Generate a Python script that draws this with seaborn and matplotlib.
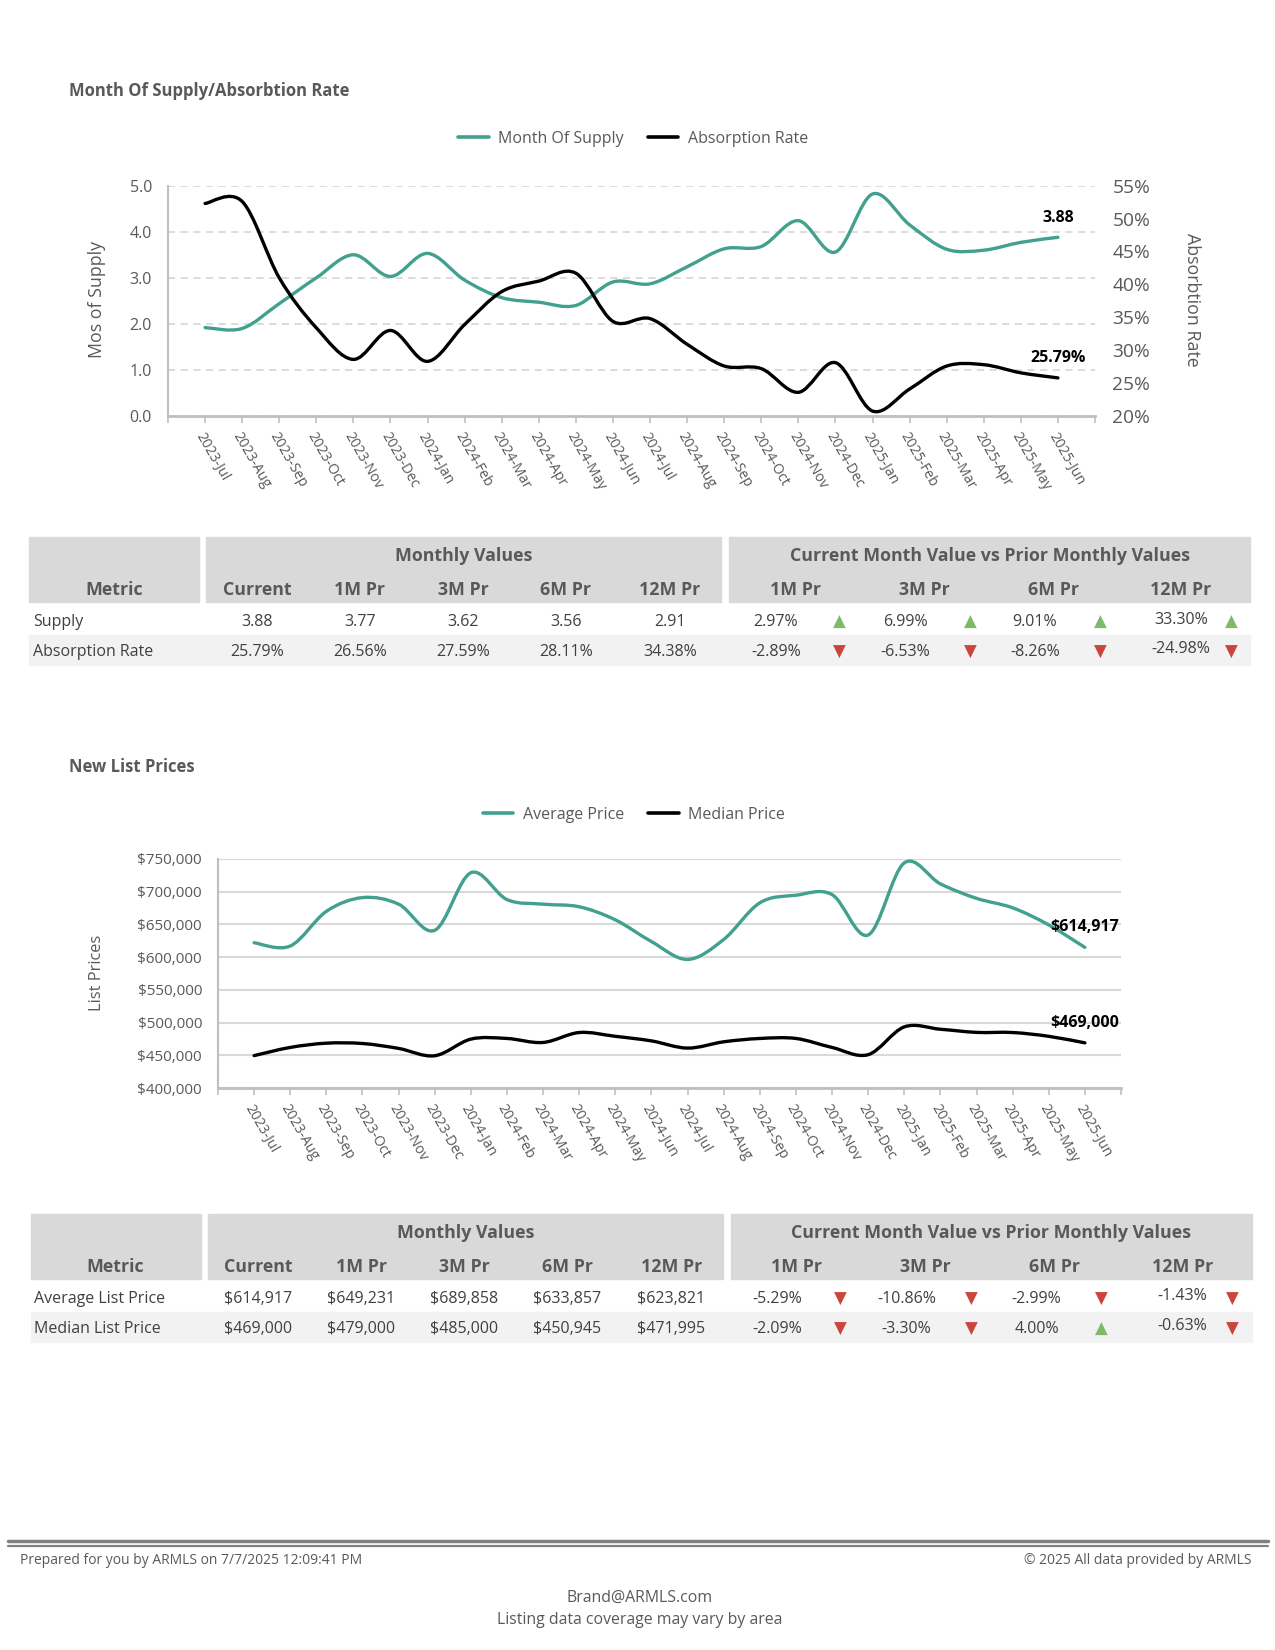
import matplotlib
matplotlib.use("Agg")
import matplotlib.pyplot as plt
import seaborn as sns
from matplotlib.path import Path
from matplotlib.patches import PathPatch, Rectangle
from matplotlib.lines import Line2D
from matplotlib.ticker import FuncFormatter

# ---- data ----
months = ['2023-Jul', '2023-Aug', '2023-Sep', '2023-Oct', '2023-Nov', '2023-Dec',
          '2024-Jan', '2024-Feb', '2024-Mar', '2024-Apr', '2024-May', '2024-Jun',
          '2024-Jul', '2024-Aug', '2024-Sep', '2024-Oct', '2024-Nov', '2024-Dec',
          '2025-Jan', '2025-Feb', '2025-Mar', '2025-Apr', '2025-May', '2025-Jun']

month_of_supply = [1.92, 1.90, 2.44, 3.00, 3.50, 3.03, 3.53, 2.95, 2.57, 2.47, 2.40, 2.91,
                   2.87, 3.24, 3.63, 3.68, 4.24, 3.56, 4.82, 4.15, 3.62, 3.60, 3.77, 3.88]
absorption_rate = [52.3, 52.6, 41.0, 33.4, 28.6, 33.0, 28.3, 33.9, 38.9, 40.5, 41.7, 34.38,
                   34.8, 30.9, 27.6, 27.2, 23.6, 28.11, 20.75, 24.1, 27.59, 27.8, 26.56, 25.79]

avg_price = [622000, 617000, 670000, 691000, 681000, 641000, 729000, 688000, 681000, 677000,
             657000, 623821, 596500, 627000, 683000, 694600, 695600, 633857, 744000, 712000,
             689858, 675400, 649231, 614917]
median_price = [449500, 462000, 468500, 468000, 460500, 449300, 474700, 475700, 469600, 484800,
                479000, 471995, 461000, 470600, 475700, 475700, 462000, 450945, 493400, 489800,
                485000, 484800, 479000, 469000]

monthly_cols = ['Current', '1M Pr', '3M Pr', '6M Pr', '12M Pr']
change_cols = ['1M Pr', '3M Pr', '6M Pr', '12M Pr']

supply_rows = ['Supply', 'Absorption Rate']
supply_values = [['3.88', '3.77', '3.62', '3.56', '2.91'],
                 ['25.79%', '26.56%', '27.59%', '28.11%', '34.38%']]
supply_changes = [['2.97%', '6.99%', '9.01%', '33.30%'],
                  ['-2.89%', '-6.53%', '-8.26%', '-24.98%']]

price_rows = ['Average List Price', 'Median List Price']
price_values = [['$614,917', '$649,231', '$689,858', '$633,857', '$623,821'],
                ['$469,000', '$479,000', '$485,000', '$450,945', '$471,995']]
price_changes = [['-5.29%', '-10.86%', '-2.99%', '-1.43%'],
                 ['-2.09%', '-3.30%', '4.00%', '-0.63%']]

# ---- style ----
sns.set_theme(style="white")
plt.rcParams['font.family'] = ['Open Sans', 'DejaVu Sans']

TEAL = '#42A08E'
GRAY_TXT = '#595959'
DATA_TXT = '#404040'
GRID = '#D9D9D9'
AXIS = '#BFBFBF'
UP = '#7DBB6A'
DOWN = '#C9463D'

W, H = 1275, 1650
fig = plt.figure(figsize=(W / 100, H / 100), dpi=100)


def fx(x):
    return x / W


def fy(y):
    return 1 - y / H


def axes_px(left, top, right, bottom):
    return fig.add_axes([left / W, 1 - bottom / H, (right - left) / W, (bottom - top) / H])


def smooth_path(ys):
    """Bezier path through the points, like Excel's smoothed line."""
    xs = list(range(len(ys)))
    n = len(ys)
    verts = [(xs[0], ys[0])]
    codes = [Path.MOVETO]
    for i in range(n - 1):
        a = max(i - 1, 0)
        b = min(i + 2, n - 1)
        c1 = (xs[i] + (xs[i + 1] - xs[a]) / 6, ys[i] + (ys[i + 1] - ys[a]) / 6)
        c2 = (xs[i + 1] - (xs[b] - xs[i]) / 6, ys[i + 1] - (ys[b] - ys[i]) / 6)
        verts += [c1, c2, (xs[i + 1], ys[i + 1])]
        codes += [Path.CURVE4] * 3
    return Path(verts, codes)


def style_xaxis(ax):
    ax.set_xlim(-1, 24)
    ax.set_xticks(range(len(months)))
    ax.set_xticks([-1, 24], minor=True)
    ax.set_xticklabels(months, rotation=-60, ha='left', va='top',
                       rotation_mode='anchor', fontsize=10.2, color=GRAY_TXT)
    ax.tick_params(axis='x', which='both', bottom=True, length=5, width=1.2,
                   color=AXIS, pad=5)
    for s in ['top', 'right']:
        ax.spines[s].set_visible(False)
    ax.spines['left'].set_color(AXIS)
    ax.spines['left'].set_linewidth(1.5)
    ax.spines['bottom'].set_color(AXIS)
    ax.spines['bottom'].set_linewidth(2)


def legend_px(labels, colors, cx, cy):
    handles = [Line2D([], [], color=c, lw=2.6) for c in colors]
    fig.legend(handles, labels, loc='center', bbox_to_anchor=(fx(cx), fy(cy)),
               ncol=2, frameon=False, fontsize=11.5, handlelength=1.9,
               handletextpad=0.6, columnspacing=1.5, labelcolor=GRAY_TXT)


# ---- chart 1: month of supply / absorption ----
fig.text(fx(69), fy(91), 'Month Of Supply/Absorbtion Rate', fontsize=12,
         weight='bold', color=GRAY_TXT, va='center')
legend_px(['Month Of Supply', 'Absorption Rate'], [TEAL, 'black'], 633, 139)

ax1 = axes_px(168, 185.7, 1095, 416)
ax1.set_ylim(0, 5)
ax1.set_yticks([0, 1, 2, 3, 4, 5])
ax1.yaxis.set_major_formatter(FuncFormatter(lambda v, p: f'{v:.1f}'))
ax1.tick_params(axis='y', length=0, pad=11.5, labelsize=11.5, labelcolor=GRAY_TXT)
ax1.yaxis.grid(True, color=GRID, lw=1.3, ls=(0, (4, 3)))
ax1.set_axisbelow(True)
style_xaxis(ax1)
ax1.add_patch(PathPatch(smooth_path(month_of_supply), fill=False,
                        edgecolor=TEAL, lw=2.4, capstyle='round', zorder=3))

ax1r = ax1.twinx()
ax1r.set_ylim(20, 55)
ax1r.set_yticks(range(20, 56, 5))
ax1r.yaxis.set_major_formatter(FuncFormatter(lambda v, p: f'{v:.0f}%'))
ax1r.tick_params(axis='y', length=0, pad=12.5, labelsize=13.8, labelcolor=GRAY_TXT)
for s in ['top', 'right', 'left', 'bottom']:
    ax1r.spines[s].set_visible(False)
ax1r.add_patch(PathPatch(smooth_path(absorption_rate), fill=False,
                         edgecolor='black', lw=2.4, capstyle='round', zorder=3))

ax1.annotate(f'{month_of_supply[-1]:.2f}', xy=(23, month_of_supply[-1]),
             xytext=(0, 14), textcoords='offset points', ha='center', va='center',
             fontsize=11.5, weight='bold', color='black')
ax1r.annotate(f'{absorption_rate[-1]:.2f}%', xy=(23, absorption_rate[-1]),
              xytext=(0, 14.5), textcoords='offset points', ha='center', va='center',
              fontsize=11.5, weight='bold', color='black')

fig.text(fx(97), fy(299), 'Mos of Supply', rotation=90, ha='center', va='center',
         fontsize=12.8, color=GRAY_TXT)
fig.text(fx(1192), fy(300), 'Absorbtion Rate', rotation=270, ha='center', va='center',
         fontsize=12.8, color=GRAY_TXT)

# ---- chart 2: new list prices ----
fig.text(fx(69), fy(767), 'New List Prices', fontsize=12, weight='bold',
         color=GRAY_TXT, va='center')
legend_px(['Average Price', 'Median Price'], [TEAL, 'black'], 634, 815)

ax2 = axes_px(218, 859, 1121, 1088)
ax2.set_ylim(400000, 750000)
ax2.set_yticks(range(400000, 750001, 50000))
ax2.yaxis.set_major_formatter(FuncFormatter(lambda v, p: f'${v:,.0f}'))
ax2.tick_params(axis='y', length=0, pad=11.5, labelsize=11, labelcolor=GRAY_TXT)
ax2.yaxis.grid(True, color=GRID, lw=1.5)
ax2.set_axisbelow(True)
style_xaxis(ax2)
ax2.add_patch(PathPatch(smooth_path(avg_price), fill=False, edgecolor=TEAL,
                        lw=2.4, capstyle='round', zorder=3))
ax2.add_patch(PathPatch(smooth_path(median_price), fill=False, edgecolor='black',
                        lw=2.4, capstyle='round', zorder=3))
ax2.annotate(f'${avg_price[-1]:,}', xy=(23, avg_price[-1]), xytext=(0, 14.5),
             textcoords='offset points', ha='center', va='center', fontsize=11.5,
             weight='bold', color='black')
ax2.annotate(f'${median_price[-1]:,}', xy=(23, median_price[-1]), xytext=(0, 14.5),
             textcoords='offset points', ha='center', va='center', fontsize=11.5,
             weight='bold', color='black')
fig.text(fx(97), fy(973), 'List Prices', rotation=90, ha='center', va='center',
         fontsize=11.8, color=GRAY_TXT)


# ---- tables ----
def draw_table(top, dx, rows, values, changes):
    def rect(x0, y0, x1, y1, color):
        fig.patches.append(Rectangle((fx(x0 + dx), fy(y1)), (x1 - x0) / W, (y1 - y0) / H,
                                     transform=fig.transFigure, color=color, zorder=0))

    def txt(x, y, s, **kw):
        fig.text(fx(x + dx), fy(top + y), s, va='center', **kw)

    rect(29, top, 199, top + 65, '#D9D9D9')
    rect(206, top, 721, top + 65, '#D9D9D9')
    rect(729, top, 1250, top + 65, '#D9D9D9')
    rect(29, top + 98, 1250, top + 128, '#F2F2F2')

    hdr = dict(fontsize=12.8, weight='bold', color=GRAY_TXT, ha='center')
    txt(464, 19, 'Monthly Values', **hdr)
    txt(990, 19, 'Current Month Value vs Prior Monthly Values', **hdr)
    txt(114, 53, 'Metric', **hdr)
    for x, c in zip([257, 360, 463, 566, 670], monthly_cols):
        txt(x, 53, c, **hdr)
    for x, c in zip([795, 924, 1053, 1181], change_cols):
        txt(x, 53, c, **hdr)

    for r, (name, vals, chg) in enumerate(zip(rows, values, changes)):
        y = 85 + 30 * r
        txt(33, y, name, fontsize=11.5, color=DATA_TXT, ha='left')
        for x, v in zip([257, 360, 463, 566, 670], vals):
            txt(x, y, v, fontsize=11.5, color=DATA_TXT, ha='center')
        for k, (x, xa, v) in enumerate(zip([776, 905, 1035, 1181], [839, 970, 1100, 1231], chg)):
            lift = -2.5 if k == 3 else 0
            txt(x, y + lift, v, fontsize=11.5, color=DATA_TXT, ha='center')
            up = not v.startswith('-')
            txt(xa, y, '▲' if up else '▼', fontsize=12, color=UP if up else DOWN,
                ha='center', family='DejaVu Sans')


draw_table(537, 0, supply_rows, supply_values, supply_changes)
draw_table(1214, 1.5, price_rows, price_values, price_changes)

# ---- footer ----
fig.lines.append(Line2D([fx(8), fx(1268)], [fy(1541), fy(1541)], transform=fig.transFigure,
                        color='#808080', lw=2.5))
fig.lines.append(Line2D([fx(8), fx(1268)], [fy(1545.5), fy(1545.5)], transform=fig.transFigure,
                        color='#808080', lw=1.6))
fig.text(fx(20), fy(1560), 'Prepared for you by ARMLS on 7/7/2025 12:09:41 PM',
         fontsize=10, color=GRAY_TXT, va='center', ha='left')
fig.text(fx(1252), fy(1560), '© 2025 All data provided by ARMLS',
         fontsize=10, color=GRAY_TXT, va='center', ha='right')
fig.text(fx(640), fy(1598), 'Brand@ARMLS.com', fontsize=11.4, color=GRAY_TXT,
         va='center', ha='center')
fig.text(fx(640), fy(1620), 'Listing data coverage may vary by area', fontsize=11.4,
         color=GRAY_TXT, va='center', ha='center')

fig.savefig('out.png', dpi=100, facecolor='white')
